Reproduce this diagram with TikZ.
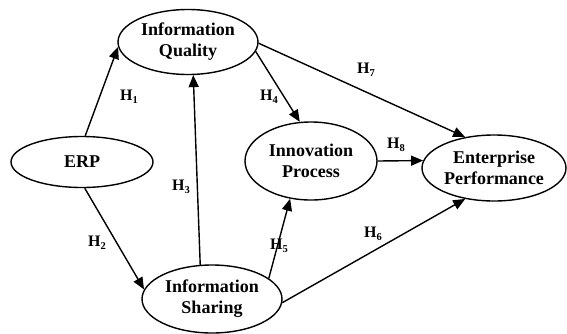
\documentclass[tikz,border=0pt]{standalone}
\usepackage{fontspec}
\setmainfont{Liberation Serif}
\usetikzlibrary{arrows.meta,shapes.geometric}
\newcommand{\hlab}[1]{H\raisebox{-0.35ex}{\fontsize{10.5}{10.5}\selectfont #1}}
\begin{document}
\begin{tikzpicture}[x=1pt,y=-1pt,
  var/.style={draw,ellipse,line width=1.4pt,inner sep=0pt,align=center,
    font=\bfseries\fontsize{18}{21}\selectfont},
  conn/.style={line width=1.4pt,-{Triangle[length=12pt,width=10pt]}},
  hl/.style={font=\bfseries\fontsize{16}{16}\selectfont}]
\useasboundingbox (0,0) rectangle (567,333);
\node[var,minimum width=140pt,minimum height=65pt] (iq) at (188,42) {Information\\Quality};
\node[var,minimum width=142pt,minimum height=51pt] (erp) at (82,162) {ERP};
\node[var,minimum width=140pt,minimum height=68pt] (is) at (212,299) {Information\\Sharing};
\node[var,minimum width=132pt,minimum height=78pt] (ip) at (311,161) {Innovation\\Process};
\node[var,minimum width=144pt,minimum height=66pt] (ep) at (494,168) {Enterprise\\Performance};
\draw[conn] (erp.83) -- (iq.184);
\draw[conn] (erp.276) -- (is.172);
\draw[conn] (is.109) -- (iq.279);
\draw[conn] (iq.352) -- (ip.106);
\draw[conn] (iq.359) -- (ep.133);
\draw[conn] (ip.0) -- (ep.174);
\draw[conn] (is.20) -- (ip.241);
\draw[conn] (is.357) -- (ep.227);
\node[hl] (h1) at (129,97) {\hlab{1}};
\node[hl] (h2) at (97,243) {\hlab{2}};
\node[hl] (h3) at (181,187) {\hlab{3}};
\node[hl] (h4) at (269,97) {\hlab{4}};
\node[hl] (h5) at (279,246) {\hlab{5}};
\node[hl] (h6) at (373,234) {\hlab{6}};
\node[hl] (h7) at (366,70) {\hlab{7}};
\node[hl] (h8) at (396,145) {\hlab{8}};
\end{tikzpicture}
\end{document}
